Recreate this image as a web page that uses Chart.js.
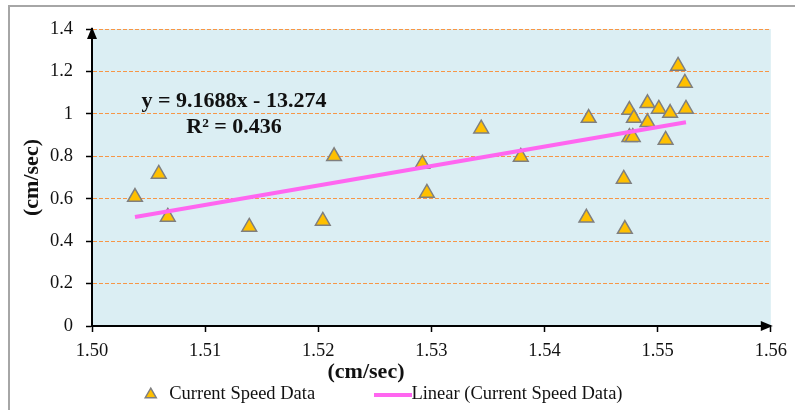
<!DOCTYPE html>
<html>
<head>
<meta charset="utf-8">
<script src="https://cdn.jsdelivr.net/npm/chart.js@4.4.0/dist/chart.umd.min.js"></script>
<style>
  html, body { margin: 0; padding: 0; background: #fff; overflow: hidden; }
  #wrap { position: relative; width: 795px; height: 410px; }
  #frame {
    position: absolute; left: 8px; top: 5px; width: 800px; height: 420px;
    border-top: 2px solid #a6a6a6; border-left: 2px solid #a6a6a6;
    pointer-events: none;
  }
</style>
</head>
<body>
<div id="wrap">
  <canvas id="chart-scatter-speed" width="795" height="410"></canvas>
  <div id="frame"></div>
</div>
<script>
// current speed readings (x) vs (y), cm/sec
const speedX = [
  1.5038, 1.5059, 1.5067, 1.5139, 1.5204, 1.5214, 1.5292, 1.5296, 1.5344,
  1.5379, 1.5437, 1.5439, 1.5470, 1.5471, 1.5475, 1.5475, 1.5478, 1.5479,
  1.5491, 1.5491, 1.5501, 1.5507, 1.5511, 1.5518, 1.5524, 1.5525,
];
const speedY = [
  0.608, 0.717, 0.514, 0.467, 0.495, 0.800, 0.764, 0.627, 0.930,
  0.797, 0.510, 0.980, 0.693, 0.457, 1.018, 0.890, 0.890, 0.980,
  1.050, 0.960, 1.023, 0.877, 1.004, 1.226, 1.146, 1.023,
];
const trendSlope = 9.1688;
const trendIntercept = -13.274;
const trendR2 = 0.436;
const xTicks = [1.5, 1.51, 1.52, 1.53, 1.54, 1.55, 1.56];
const yTicks = [0, 0.2, 0.4, 0.6, 0.8, 1, 1.2, 1.4];

const serif = "'Liberation Serif', 'Times New Roman', serif";
const pink = "#ff66f0";

const points = speedX.map((x, i) => ({ x: x, y: speedY[i] }));
const xMin = Math.min(...speedX);
const xMax = Math.max(...speedX);
const trend = [
  { x: xMin, y: trendSlope * xMin + trendIntercept },
  { x: xMax, y: trendSlope * xMax + trendIntercept },
];

// legend swatch for the trend line (longer than the font box)
const lineSwatch = document.createElement("canvas");
lineSwatch.width = 38;
lineSwatch.height = 4;
const sw = lineSwatch.getContext("2d");
sw.fillStyle = pink;
sw.fillRect(0, 0, 38, 4);

const legendGap = 68.5;

const decorPlugin = {
  id: "decor",
  beforeInit(chart) {
    const originalFit = chart.legend.fit;
    chart.legend.fit = function fit() {
      originalFit.bind(chart.legend)();
      this.height = 44;
    };
  },
  afterLayout(chart) {
    // move the legend row down / left, like the original sheet
    const lg = chart.legend;
    lg.left -= 8;
    lg.right -= 8;
    lg.top = 394.5 - 9.25 - legendGap;
    lg.bottom = chart.height;
  },
  beforeDraw(chart) {
    const { ctx, chartArea: a } = chart;
    ctx.save();
    ctx.fillStyle = "#dbeef3";
    ctx.fillRect(a.left, a.top, a.right - a.left, a.bottom - a.top);
    ctx.restore();
  },
  afterDraw(chart) {
    const { ctx, chartArea: a } = chart;
    ctx.save();
    ctx.fillStyle = "#000";
    // arrow heads on both axes
    ctx.beginPath();
    ctx.moveTo(a.left, a.top - 2);
    ctx.lineTo(a.left - 5, a.top + 10);
    ctx.lineTo(a.left + 5, a.top + 10);
    ctx.closePath();
    ctx.fill();
    ctx.beginPath();
    ctx.moveTo(a.right + 2, a.bottom);
    ctx.lineTo(a.right - 10, a.bottom - 5);
    ctx.lineTo(a.right - 10, a.bottom + 5);
    ctx.closePath();
    ctx.fill();

    ctx.fillStyle = "#111";
    ctx.textAlign = "center";
    ctx.textBaseline = "middle";
    ctx.font = "bold 22px " + serif;
    ctx.fillText("y = " + trendSlope + "x - " + Math.abs(trendIntercept), 234, 101);
    ctx.fillText("R\u00b2 = " + trendR2, 234, 127);
    ctx.fillText("(cm/sec)", 366, 372);
    ctx.restore();
  },
};

const ctx = document.getElementById("chart-scatter-speed").getContext("2d");
const chartSpeed = new Chart(ctx, {
  type: "scatter",
  plugins: [decorPlugin],
  data: {
    datasets: [
      {
        label: "Current Speed Data",
        data: points,
        pointStyle: "triangle",
        pointRadius: 8.5,
        pointHoverRadius: 8.5,
        backgroundColor: "#ffc000",
        borderColor: "#7f7f7f",
        borderWidth: 1.5,
        order: 1,
      },
      {
        label: "Linear (Current Speed Data)",
        type: "line",
        data: trend,
        showLine: true,
        borderColor: pink,
        backgroundColor: pink,
        borderWidth: 4,
        pointRadius: 0,
        tension: 0,
        order: 0,
      },
    ],
  },
  options: {
    responsive: false,
    animation: false,
    layout: {
      padding: { left: 8, right: 23, top: 29, bottom: 0 },
    },
    plugins: {
      tooltip: { enabled: false },
      legend: {
        display: true,
        position: "bottom",
        align: "center",
        labels: {
          usePointStyle: true,
          boxHeight: 9,
          padding: legendGap,
          color: "#111",
          font: { family: serif, size: 18.5 },
          sort: (a, b) => a.datasetIndex - b.datasetIndex,
          generateLabels: (chart) => {
            const items = Chart.defaults.plugins.legend.labels.generateLabels(chart);
            items.forEach((it) => {
              if (it.datasetIndex === 1) it.pointStyle = lineSwatch;
            });
            return items;
          },
        },
      },
    },
    scales: {
      x: {
        type: "linear",
        min: xTicks[0],
        max: xTicks[xTicks.length - 1],
        afterFit: (scale) => {
          scale.height = 40;
        },
        afterBuildTicks: (scale) => {
          scale.ticks = xTicks.map((v) => ({ value: v }));
        },
        border: { display: true, color: "#000", width: 2 },
        grid: {
          display: true,
          drawOnChartArea: false,
          drawTicks: true,
          tickLength: 6,
          tickColor: "#000",
          tickWidth: 1.5,
        },
        ticks: {
          padding: 8,
          color: "#111",
          maxRotation: 0,
          font: { family: serif, size: 18.5 },
          callback: (v) => Number(v).toFixed(2),
        },
      },
      y: {
        type: "linear",
        min: yTicks[0],
        max: yTicks[yTicks.length - 1],
        afterFit: (scale) => {
          scale.width = 84;
        },
        afterBuildTicks: (scale) => {
          scale.ticks = yTicks.map((v) => ({ value: v }));
        },
        border: { display: true, color: "#000", width: 2, dash: [4, 2] },
        grid: {
          display: true,
          drawOnChartArea: true,
          drawTicks: true,
          tickLength: 6,
          tickWidth: 1.5,
          tickColor: "#000",
          tickBorderDash: [],
          color: (c) => (c.tick && c.tick.value === 0 ? "rgba(0,0,0,0)" : "#f79646"),
          lineWidth: 1,
        },
        title: {
          display: true,
          text: "(cm/sec)",
          color: "#111",
          padding: { top: 11, bottom: 0 },
          font: { family: serif, size: 22, weight: "bold" },
        },
        ticks: {
          padding: 13,
          color: "#111",
          font: { family: serif, size: 18.5 },
          callback: (v) => String(+Number(v).toFixed(1)),
        },
      },
    },
  },
});
</script>
</body>
</html>
